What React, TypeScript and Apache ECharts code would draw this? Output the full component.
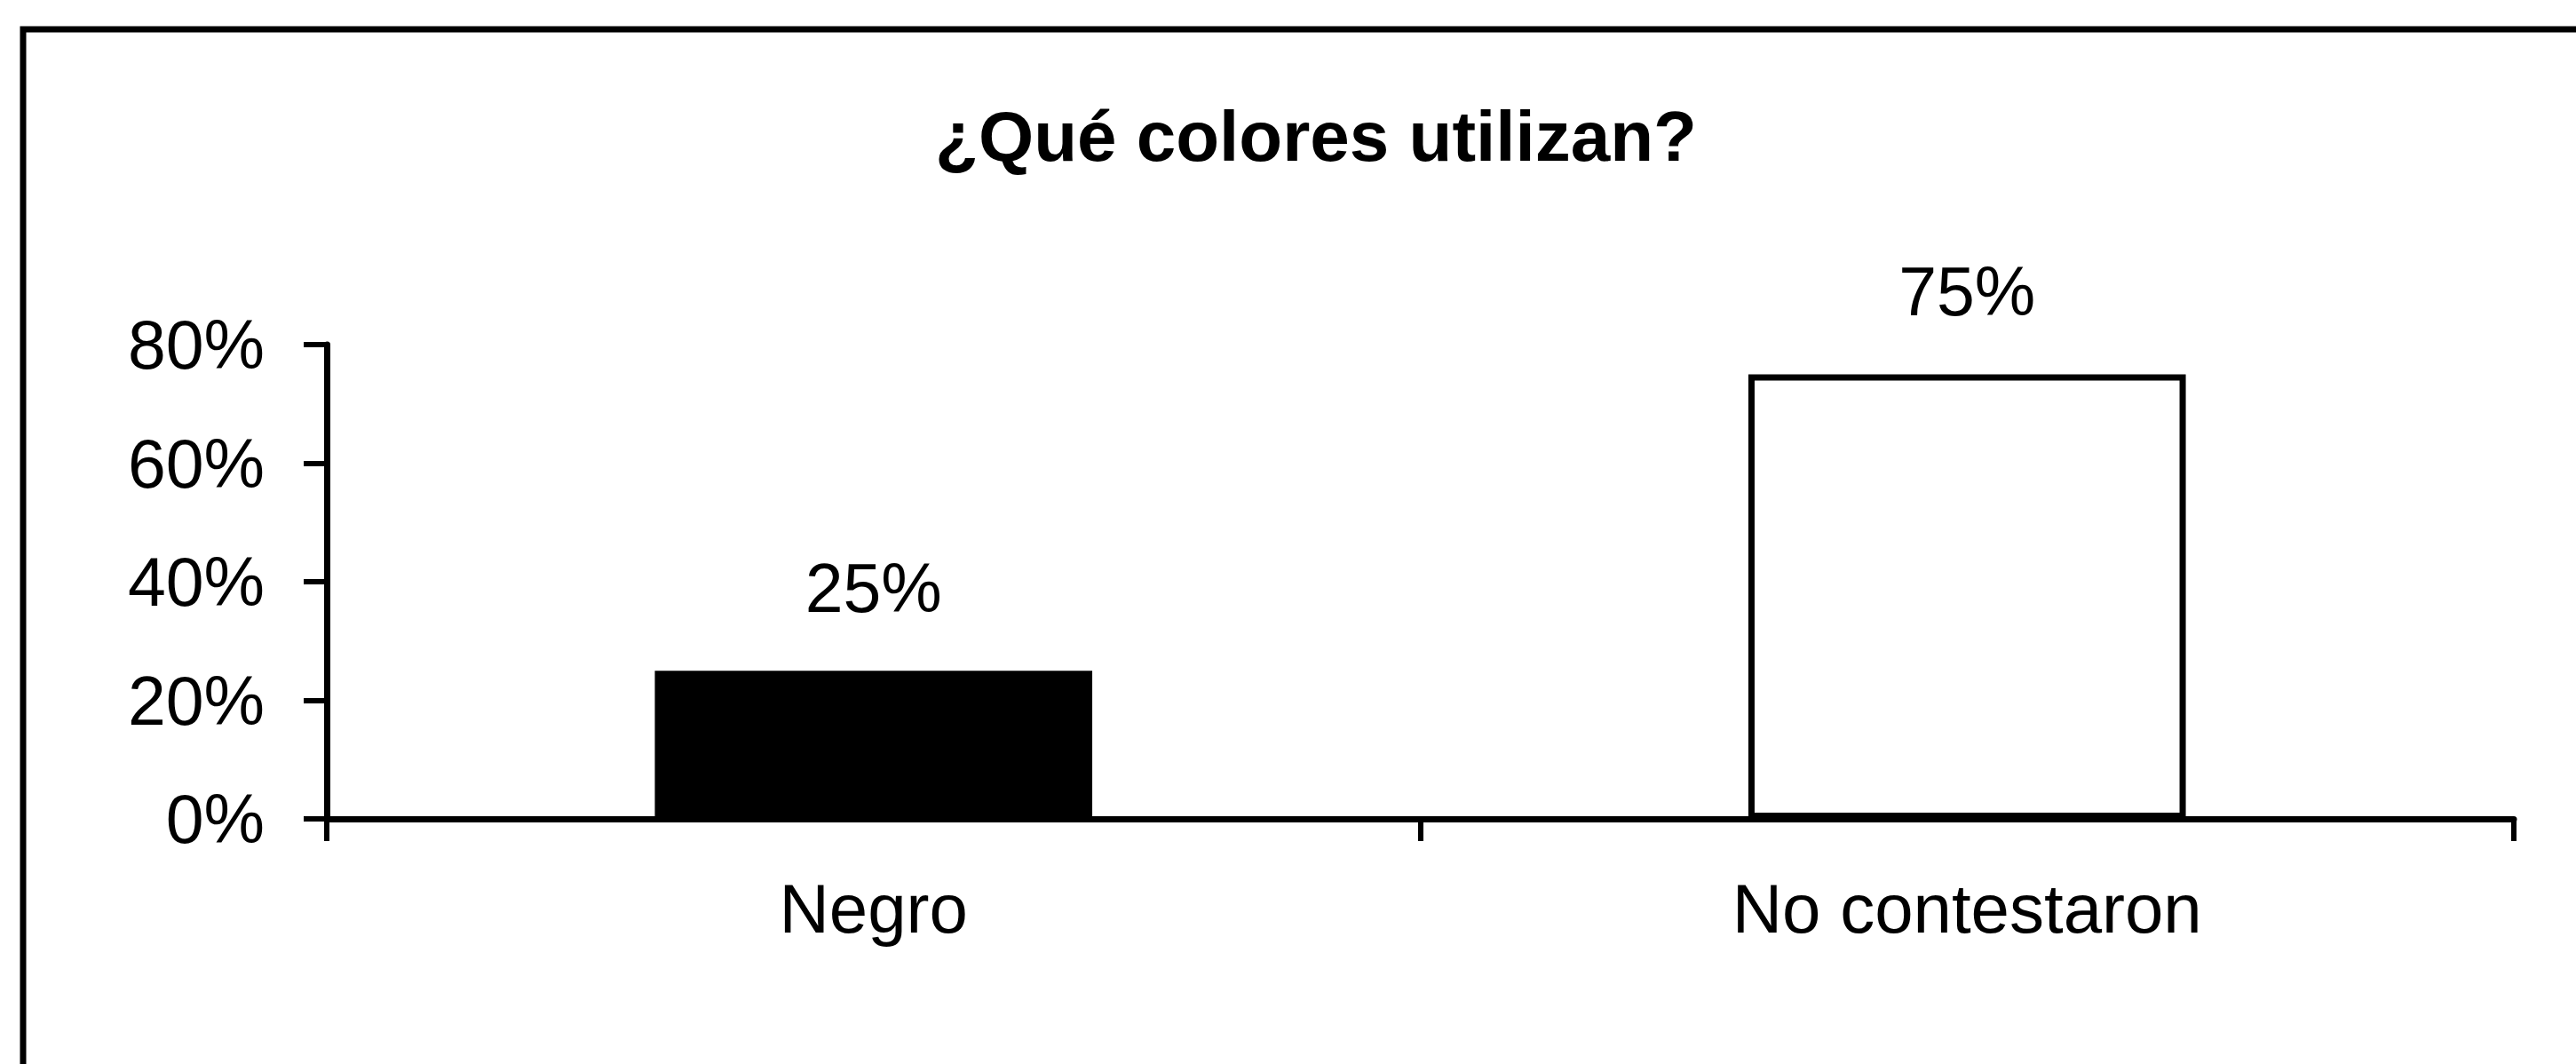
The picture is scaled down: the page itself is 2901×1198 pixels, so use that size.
import React, { useEffect, useRef } from "react";
import * as echarts from "echarts";

const categories = ["Negro", "No contestaron"];
const values = [25, 75];
const barFills = ["#000000", "#ffffff"];
const yTicks = [0, 20, 40, 60, 80];
const titleText = "¿Qué colores utilizan?";

export default function App() {
  const ref = useRef<HTMLDivElement>(null);
  useEffect(() => {
    if (!ref.current) return;
    const chart = echarts.init(ref.current, undefined, { renderer: "svg" });
    const font = "'Liberation Sans', Arial, sans-serif";
    chart.setOption({
      animation: false,
      backgroundColor: "#ffffff",
      title: {
        text: titleText,
        left: 1477,
        top: 108,
        textAlign: "center",
        textStyle: { fontFamily: font, fontWeight: "bold", fontSize: 80, color: "#000" },
      },
      graphic: [
        {
          type: "rect",
          shape: { x: 26, y: 33, width: 2960, height: 1250 },
          style: { fill: "none", stroke: "#000", lineWidth: 7 },
          silent: true,
        },
      ],
      grid: { left: 368, right: 70, top: 388, bottom: 276, containLabel: false },
      xAxis: {
        type: "category",
        data: categories,
        boundaryGap: true,
        axisLine: { show: true, lineStyle: { color: "#000", width: 7 } },
        axisTick: { show: true, length: 25, lineStyle: { color: "#000", width: 6 } },
        axisLabel: { fontFamily: font, fontSize: 78, color: "#000", margin: 62 },
        splitLine: { show: false },
      },
      yAxis: {
        type: "value",
        min: yTicks[0],
        max: yTicks[yTicks.length - 1],
        interval: 20,
        axisLine: { show: true, lineStyle: { color: "#000", width: 7 } },
        axisTick: { show: true, length: 26, lineStyle: { color: "#000", width: 6 } },
        axisLabel: { fontFamily: font, fontSize: 77, color: "#000", margin: 70, formatter: "{value}%" },
        splitLine: { show: false },
      },
      series: [
        {
          type: "bar",
          barWidth: "40%",
          data: values.map((v, i) => ({
            value: v,
            itemStyle: { color: barFills[i], borderColor: "#000", borderWidth: 7 },
          })),
          label: {
            show: true,
            position: "top",
            distance: 55,
            formatter: "{c}%",
            fontFamily: font,
            fontSize: 77,
            color: "#000",
          },
        },
      ],
    });
    return () => chart.dispose();
  }, []);
  return (
    <div
      ref={ref}
      style={{ position: "fixed", left: 0, top: 0, width: 2901, height: 1198, background: "#fff" }}
    />
  );
}
